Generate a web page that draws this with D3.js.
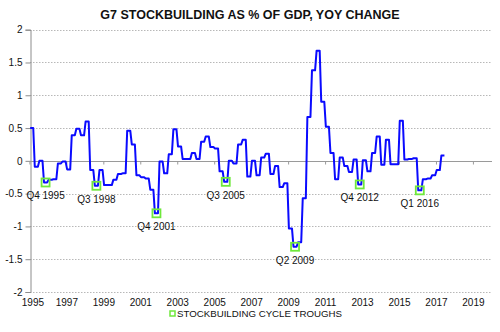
<!DOCTYPE html>
<html>
<head>
<meta charset="utf-8">
<script src="https://cdn.jsdelivr.net/npm/d3@7"></script>
<style>
  html, body { margin: 0; padding: 0; background: #fff; }
  svg { display: block; font-family: "Liberation Sans", Arial, sans-serif; }
</style>
</head>
<body>
<svg id="chart" width="500" height="332"></svg>
<script>
// G7 stockbuilding as % of GDP, year-on-year change; quarterly from 1995 Q1
const startYear = 1995;
const stockbuildingChange = [
  0.50, -0.09, 0.00, -0.33,   // 1995
  -0.29, -0.28, -0.04, -0.01, // 1996
  -0.13, 0.39, 0.49, 0.39,    // 1997
  0.60, -0.14, -0.38, -0.14,  // 1998
  -0.37, -0.37, -0.29, -0.20, // 1999
  -0.19, 0.46, 0.25, -0.22,   // 2000
  -0.25, -0.27, -0.44, -0.80, // 2001
  -0.01, -0.19, 0.10, 0.48,   // 2002
  0.22, 0.03, 0.03, 0.12,     // 2003
  0.03, 0.29, 0.37, 0.21,     // 2004
  0.19, -0.16, -0.32, 0.00,   // 2005
  -0.04, 0.25, 0.32, -0.24,   // 2006
  0.00, -0.22, 0.05, 0.11,    // 2007
  -0.20, -0.08, -0.40, -0.34, // 2008
  -1.03, -1.31, -1.24, -0.57, // 2009
  0.67, 1.38, 1.68, 0.90,     // 2010
  0.52, 0.12, -0.28, 0.05,    // 2011
  -0.08, -0.17, 0.02, -0.36,  // 2012
  0.01, -0.16, 0.12, 0.37,    // 2013
  -0.06, 0.32, -0.05, -0.05,  // 2014
  0.61, 0.02, 0.03, 0.04,     // 2015
  -0.45, -0.28, -0.27, -0.22, // 2016
  -0.14, 0.08                 // 2017
];
const troughQuarters = ["Q4 1995", "Q3 1998", "Q4 2001", "Q3 2005", "Q2 2009", "Q4 2012", "Q1 2016"];
const yTickValues = [-2, -1.5, -1, -0.5, 0, 0.5, 1, 1.5, 2];
const xTickYears = [1995, 1997, 1999, 2001, 2003, 2005, 2007, 2009, 2011, 2013, 2015, 2017, 2019];
const chartTitle = "G7 STOCKBUILDING AS % OF GDP, YOY CHANGE";
const legendLabel = "STOCKBUILDING CYCLE TROUGHS";

const svg = d3.select("#chart");
const x = d3.scaleLinear().domain([1995, 2020]).range([29.4, 491.4]);
const y = d3.scaleLinear().domain([-2, 2]).range([292, 29.7]);
const plotLeft = 30, plotRight = 492;

const lineColor = "#0a0aff";
const troughColor = "#6fe83b";
const textColor = "#111";

// each quarter is held flat across its three months
function quarterSpan(i) {
  const yr = startYear + Math.floor(i / 4);
  const q = i % 4;
  return { start: yr + (3 * q + 0.5) / 12, mid: yr + (3 * q + 1.5) / 12, end: yr + (3 * q + 2.5) / 12 };
}
const linePoints = [];
stockbuildingChange.forEach((v, i) => {
  const s = quarterSpan(i);
  linePoints.push({ t: s.start, v }, { t: s.end, v });
});

// title
svg.append("text")
  .attr("x", 250).attr("y", 18.5)
  .attr("text-anchor", "middle")
  .attr("font-size", 12.5).attr("font-weight", "bold")
  .attr("fill", textColor)
  .text(chartTitle);

// horizontal gridlines
svg.append("g").selectAll("line")
  .data(yTickValues.filter(d => d !== 0))
  .join("line")
  .attr("x1", plotLeft).attr("x2", plotRight)
  .attr("y1", d => Math.round(y(d)) + 0.5).attr("y2", d => Math.round(y(d)) + 0.5)
  .attr("stroke", "#b8b8b8").attr("stroke-width", 1)
  .attr("stroke-dasharray", "1.5,1.5");

// y axis
const yAxis = svg.append("g")
  .attr("transform", `translate(${plotLeft + 0.5},0)`)
  .call(d3.axisLeft(y).tickValues(yTickValues).tickSize(5).tickPadding(3).tickFormat(d => String(d)));
yAxis.select(".domain").attr("stroke", "#8c8c8c");
yAxis.selectAll(".tick line").attr("stroke", "#8c8c8c");
yAxis.selectAll(".tick text")
  .attr("font-size", 10).attr("fill", textColor)
  .attr("font-family", "Liberation Sans, Arial, sans-serif");

// zero line with year ticks
const zeroAxis = svg.append("g")
  .attr("transform", `translate(0,${Math.round(y(0)) + 0.5})`)
  .call(d3.axisBottom(x).tickValues(xTickYears).tickSizeInner(3).tickSizeOuter(0).tickFormat(""));
zeroAxis.select(".domain").attr("stroke", "#9a9a9a").attr("d", `M${plotLeft},0H${plotRight}`);
zeroAxis.selectAll(".tick line").attr("stroke", "#9a9a9a");

// year labels along the bottom
const yearAxis = svg.append("g")
  .attr("transform", `translate(0,292)`)
  .call(d3.axisBottom(x).tickValues(xTickYears).tickSize(0).tickPadding(7).tickFormat(d3.format("d")));
yearAxis.select(".domain").remove();
yearAxis.selectAll(".tick text")
  .attr("font-size", 10).attr("fill", textColor)
  .attr("font-family", "Liberation Sans, Arial, sans-serif");
// keep the first year label clear of the left edge
yearAxis.selectAll(".tick").filter(d => d === 1995).select("text").attr("dx", 3);

// series line
svg.append("path")
  .datum(linePoints)
  .attr("fill", "none")
  .attr("stroke", lineColor)
  .attr("stroke-width", 2)
  .attr("stroke-linejoin", "round")
  .attr("d", d3.line().x(d => x(d.t)).y(d => y(d.v)));

// trough markers and labels
const troughs = troughQuarters.map(label => {
  const [qs, ys] = label.split(" ");
  const i = (+ys - startYear) * 4 + (+qs.slice(1) - 1);
  return { label, t: quarterSpan(i).mid, v: stockbuildingChange[i] };
});
const tg = svg.append("g");
tg.selectAll("rect")
  .data(troughs)
  .join("rect")
  .attr("x", d => x(d.t) - 4).attr("y", d => y(d.v) - 4)
  .attr("width", 8).attr("height", 8)
  .attr("fill", "none").attr("stroke", troughColor).attr("stroke-width", 1.8);
tg.selectAll("text")
  .data(troughs)
  .join("text")
  .attr("x", d => x(d.t)).attr("y", d => y(d.v) + 17)
  .attr("text-anchor", "middle")
  .attr("font-size", 10).attr("fill", textColor)
  .text(d => d.label);

// legend
const legend = svg.append("g");
legend.append("rect")
  .attr("x", 170).attr("y", 311).attr("width", 5).attr("height", 5)
  .attr("fill", "none").attr("stroke", troughColor).attr("stroke-width", 1.5);
legend.append("text")
  .attr("x", 177).attr("y", 317.2)
  .attr("font-size", 9.7).attr("fill", textColor)
  .text(legendLabel);
</script>
</body>
</html>
